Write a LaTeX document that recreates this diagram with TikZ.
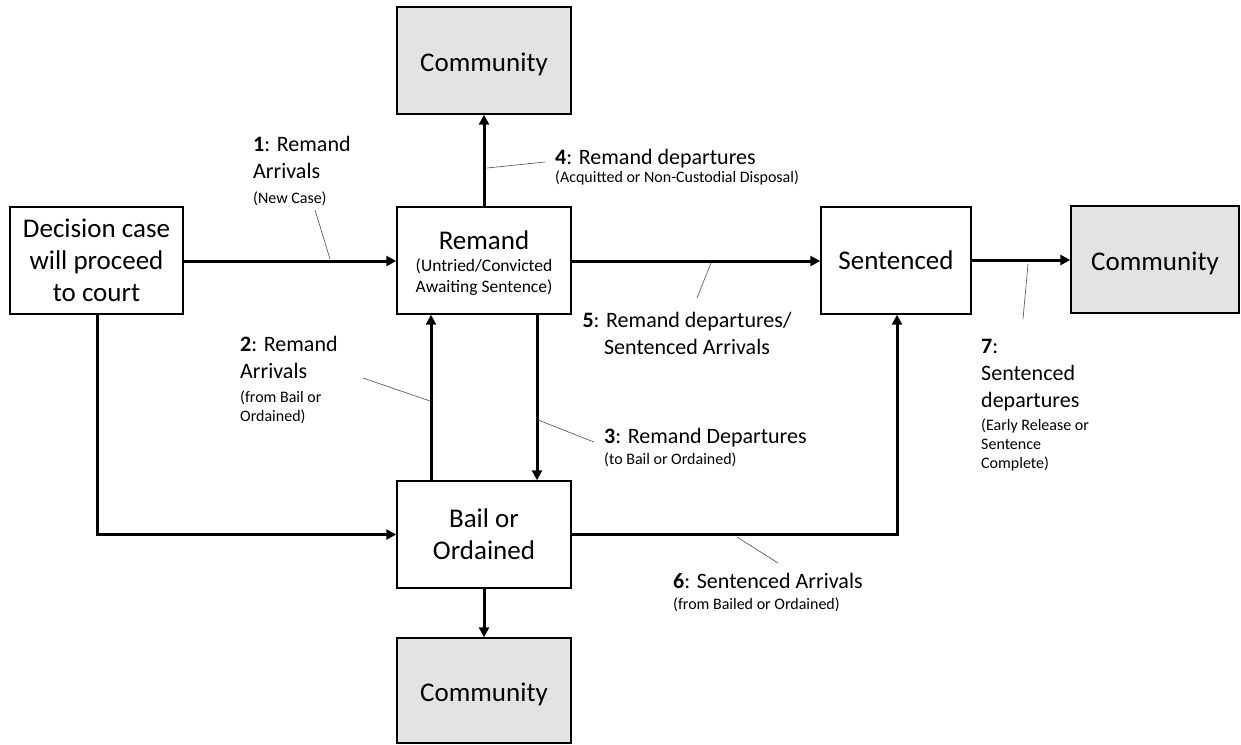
\documentclass[tikz,border=0pt]{standalone}
\usepackage{fontspec}
\setmainfont{Carlito}
\usetikzlibrary{arrows.meta}
\tikzset{
  box/.style={draw=black, line width=1.4pt, fill=white, align=center, inner sep=0pt,
    font=\fontsize{27}{32}\selectfont},
  comm/.style={box, fill=black!11, text height=22.5pt, text depth=0pt},
  flow/.style={line width=3pt, -{Triangle[length=10pt,width=10pt]}},
  leader/.style={draw=black!70, line width=0.6pt},
  lab/.style={align=left, anchor=north west, inner sep=0pt, font=\fontsize{22}{27}\selectfont},
}
\newcommand{\smstack}[1]{{\fontsize{16}{19}\selectfont\begin{tabular}[t]{@{}l@{}}#1\end{tabular}}}
\newcommand{\bsmstack}[1]{{\fontsize{17.5}{21}\selectfont\begin{tabular}[t]{@{}c@{}}#1\end{tabular}}}
\begin{document}
\begin{tikzpicture}[x=1pt,y=-1pt]
\useasboundingbox (0,0) rectangle (1241,744);
% boxes
\node[box, minimum width=173pt, minimum height=107pt] (dec) at (96.5,260.5) {Decision case\\will proceed\\to court};
\node[box, minimum width=174pt, minimum height=107pt] (rem) at (484,260.5) {\rule{0pt}{27pt}Remand\\[-10pt]\bsmstack{(Untried/Convicted\\Awaiting Sentence)}};
\node[comm, minimum width=174pt, minimum height=107pt] (ctop) at (484,60.5) {Community};
\node[box, minimum width=150pt, minimum height=107pt] (sen) at (896,260.5) {Sentenced};
\node[comm, minimum width=168pt, minimum height=107pt] (cright) at (1155,259.5) {Community};
\node[box, minimum width=174pt, minimum height=107pt] (bail) at (484,534.5) {Bail or\\Ordained};
\node[comm, minimum width=174pt, minimum height=105pt] (cbot) at (484,690.5) {Community};
% flows
\draw[flow] (dec.east |- 0,261) -- (rem.west |- 0,261);
\draw[flow] (rem.north) -- (ctop.south);
\draw[flow] (rem.east |- 0,261) -- (sen.west |- 0,261);
\draw[flow] (sen.east |- 0,260) -- (cright.west |- 0,260);
\draw[flow] (bail.north -| 431,0) -- (rem.south -| 431,0);
\draw[flow] (rem.south -| 537,0) -- (bail.north -| 537,0);
\draw[flow] (dec.south -| 97,0) |- (bail.west);
\draw[flow] (bail.east) -| (sen.south -| 897,0);
\draw[flow] (bail.south) -- (cbot.north);
% leaders
\coordinate (l1a) at (315,210); \coordinate (l1b) at (330,259);
\coordinate (l4a) at (487,168); \coordinate (l4b) at (545,162);
\coordinate (l5a) at (711,263); \coordinate (l5b) at (697,298);
\coordinate (l2a) at (363,378); \coordinate (l2b) at (430,401);
\coordinate (l3a) at (538,420); \coordinate (l3b) at (594,442);
\coordinate (l6a) at (737,537); \coordinate (l6b) at (778,563);
\coordinate (l7a) at (1028,264); \coordinate (l7b) at (1023,319);
\draw[leader] (l1a) -- (l1b);
\draw[leader] (l4a) -- (l4b);
\draw[leader] (l5a) -- (l5b);
\draw[leader] (l2a) -- (l2b);
\draw[leader] (l3a) -- (l3b);
\draw[leader] (l6a) -- (l6b);
\draw[leader] (l7a) -- (l7b);
% labels
\node[lab] (t1) at (253,136) {\textbf{1}: Remand\\Arrivals\\[-2pt]\smstack{(New Case)}};
\node[lab] (t4) at (555,149) {\textbf{4}: Remand departures\\[-9pt]\smstack{(Acquitted or Non-Custodial Disposal)}};
\node[lab, align=center, anchor=north] (t5) at (687,312) {\textbf{5}: Remand departures/\\Sentenced Arrivals};
\node[lab] (t2) at (240,336) {\textbf{2}: Remand\\Arrivals\\[-3pt]\smstack{(from Bail or\\Ordained)}};
\node[lab] (t3) at (604,428) {\textbf{3}: Remand Departures\\[-6pt]\smstack{(to Bail or Ordained)}};
\node[lab] (t6) at (673,573) {\textbf{6}: Sentenced Arrivals\\[-6pt]\smstack{(from Bailed or Ordained)}};
\node[lab] (t7) at (981,339) {\textbf{7}:\\Sentenced\\departures\\[-4pt]\smstack{(Early Release or\\Sentence\\Complete)}};
\end{tikzpicture}
\end{document}
